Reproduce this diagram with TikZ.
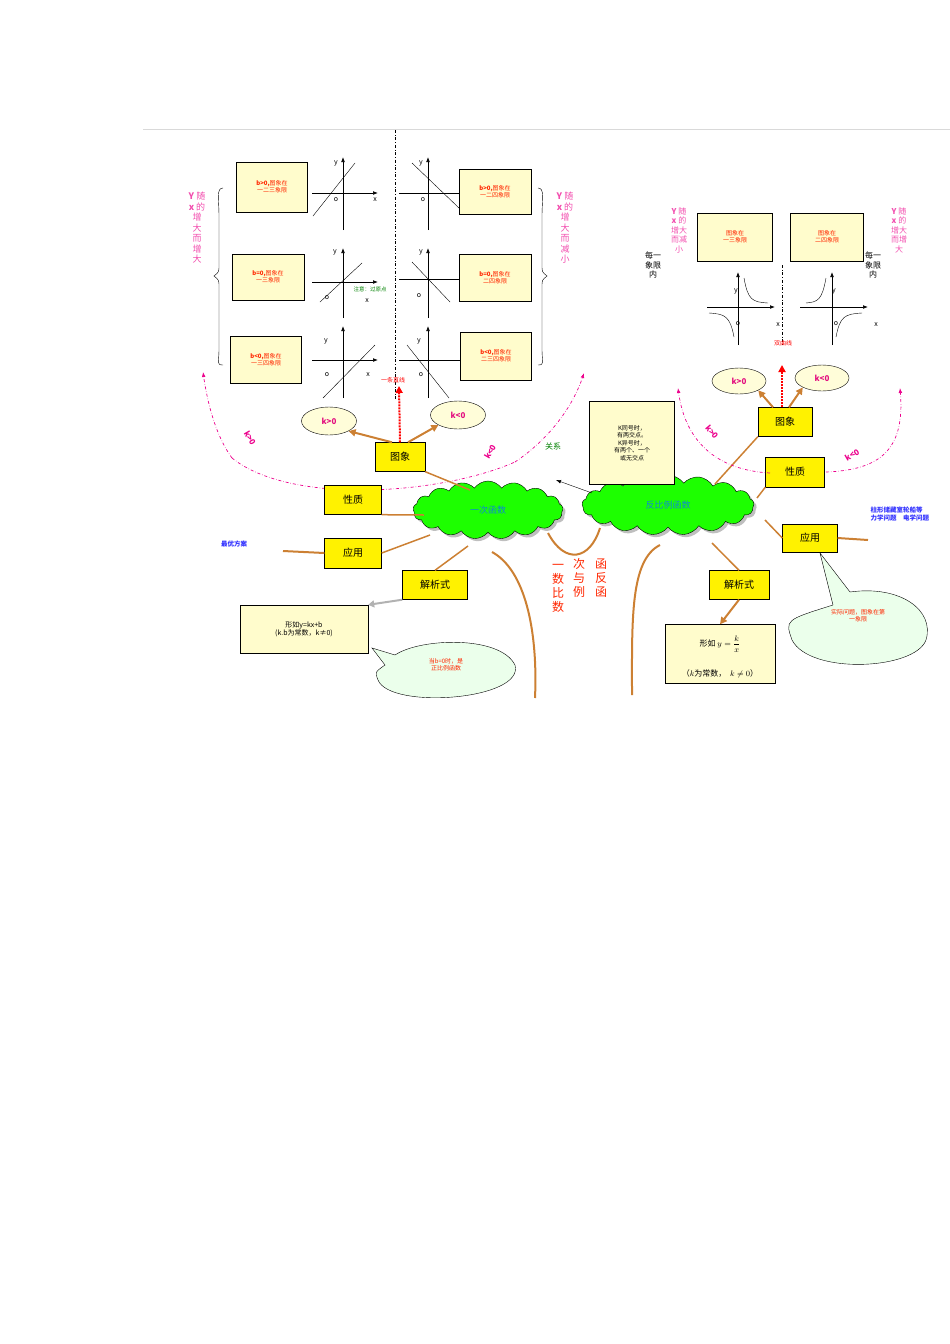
\documentclass[tikz,border=0pt]{standalone}
\usepackage{fontspec}
\setmainfont{Noto Sans CJK SC}
\usetikzlibrary{shapes.symbols,shapes.geometric,shapes.callouts,arrows.meta,shadows}
\begin{document}
\begin{tikzpicture}[x=1pt,y=-1pt,
 ybox/.style={draw,fill=yellow,font=\fontsize{10}{11}\selectfont,inner sep=0pt},
 cbox/.style={draw,fill=yellow!20,align=center,font=\fontsize{6}{7}\selectfont,text=red!70!orange,inner sep=0pt},
 kell/.style={draw,fill=yellow!15,ellipse,minimum width=55,minimum height=28,font=\fontsize{8}{9}\selectfont\bfseries,text=magenta!80!purple},
 br/.style={draw=brown!80!orange,line width=2pt},
 brar/.style={br,-{Triangle[length=7pt,width=7pt]}},
 ax/.style={-{Latex[length=5pt]},line width=0.7pt},
 gl/.style={font=\fontsize{7}{8}\selectfont\itshape},
 pk/.style={magenta,dash dot,line width=0.7pt},
 kl/.style={magenta,font=\fontsize{8}{9}\selectfont\bfseries,inner sep=0pt},
 vt/.style={align=center,font=\fontsize{9}{10.5}\selectfont,text=magenta!70,inner sep=0pt},
 cl/.style={cloud,cloud puffs=17,cloud puff arc=110,aspect=2.6,draw,fill=green!85!lime,drop shadow,font=\fontsize{9}{10}\selectfont,text=cyan!70!blue,inner sep=0pt}]
\useasboundingbox (0,0) rectangle (950,1344);
\draw[gray!30] (143,129) -- (950,129);
\draw[dash dot] (395,130) -- (395,400);
\draw[dash dot] (782,265) -- (782,345);
% left boxes
\node[cbox,minimum width=71,minimum height=50] (l1) at (272,187) {\textbf{b>0,}图象在\\一二三象限};
\node[cbox,minimum width=72,minimum height=46] (l2) at (268,277) {\textbf{b=0,}图象在\\一三象限};
\node[cbox,minimum width=71,minimum height=47] (l3) at (266,360) {\textbf{b<0,}图象在\\一三四象限};
\node[cbox,minimum width=72,minimum height=45] (r1) at (495,192) {\textbf{b>0,}图象在\\一二四象限};
\node[cbox,minimum width=72,minimum height=47] (r2) at (495,278) {\textbf{b=0,}图象在\\二四象限};
\node[cbox,minimum width=71,minimum height=48] (r3) at (496,356) {\textbf{b<0,}图象在\\二三四象限};
% left graphs
\draw[ax] (343,230)--(343,157); \draw[ax] (312,193)--(378,193); \draw (313,216)--(355,163);
\node[gl] at (336,163){y}; \node[gl] at (336,200){o}; \node[gl] at (375,200){x};
\draw[ax] (343,318)--(343,248); \draw[ax] (312,282)--(378,282); \draw (320,302)--(362,263);
\node[gl] at (335,252){y}; \node[gl] at (327,298){o}; \node[gl] at (367,301){x};
\node[font=\fontsize{5.5}{6}\selectfont,text=green!50!black] at (370,289){注意：过原点};
\draw[ax] (343,398)--(343,326); \draw[ax] (312,360)--(378,360); \draw (323,398)--(375,345);
\node[gl] at (326,341){y}; \node[gl] at (327,375){o}; \node[gl] at (368,375){x};
% right graphs
\draw[ax] (428,230)--(428,157); \draw (399,193)--(459,193); \draw (412,163)--(459,208);
\node[gl] at (421,163){y}; \node[gl] at (423,200){o};
\draw[ax] (428,318)--(428,248); \draw (399,279)--(459,279); \draw (412,262)--(450,302);
\node[gl] at (421,252){y}; \node[gl] at (419,296){o};
\draw[ax] (428,398)--(428,326); \draw (399,360)--(461,360); \draw (407,345)--(449,398);
\node[gl] at (419,341){y}; \node[gl] at (421,375){o};
% braces
\draw (223,188) .. controls (216,188) and (219,200) .. (219,215) -- (219,265) .. controls (219,272) .. (214,276) .. controls (219,280) .. (219,287) -- (219,350) .. controls (219,362) and (216,365) .. (223,365);
\draw (538,188) .. controls (545,188) and (542,200) .. (542,215) -- (542,265) .. controls (542,272) .. (547,276) .. controls (542,280) .. (542,287) -- (542,350) .. controls (542,362) and (545,365) .. (538,365);
\node[vt] at (197,228) {\textbf{Y} 随\\\textbf{x} 的\\增\\大\\而\\增\\大};
\node[vt] at (565,228) {\textbf{Y} 随\\\textbf{x} 的\\增\\大\\而\\减\\小};
% left lower
\coordinate (up1) at (399,386);
\node[font=\fontsize{6}{7}\selectfont,text=red] at (393,380) {一条直线};
\node[ybox,minimum width=50,minimum height=29] (tx1) at (400,457) {图象};
\draw[red,densely dotted,line width=2pt,-{Triangle[length=7pt,width=7pt]}] (tx1.north) -- (up1);
\node[kell] (kp1) at (329,421) {k>0};
\node[kell] (kn1) at (458,415) {k<0};
\draw[brar] ([xshift=-8]tx1.north) -- (kp1.south east);
\draw[brar] ([xshift=8]tx1.north) -- (kn1.south west);
\draw[pk,-{Latex[length=5pt]}] (232,458) .. controls (215,435) and (207,400) .. (203,372);
\draw[pk] (232,458) .. controls (290,505) and (440,495) .. (515,462);
\draw[pk,-{Latex[length=5pt]}] (515,462) .. controls (555,435) and (575,400) .. (584,373);
\node[kl,rotate=-60] at (250,438){k>0};
\node[kl,rotate=60] at (490,452){k<0};
\node[cl,minimum width=150,minimum height=58] (c1) at (488,510) {一次函数};
\node[ybox,minimum width=57,minimum height=29] (xz1) at (353,500) {性质};
\node[ybox,minimum width=57,minimum height=30] (yy1) at (353,553) {应用};
\node[ybox,minimum width=65,minimum height=29] (jx1) at (435,585) {解析式};
\draw[br,line width=1.5pt] (tx1.south east) -- (470,490);
\draw[br,line width=1.5pt] (xz1.south east) -- (424,515);
\draw[br,line width=1.5pt] (yy1.east) -- (430,535);
\draw[br,line width=1.5pt] (jx1.north) -- (468,546);
\coordinate (lo) at (283,551);
\draw[br] (yy1.west) -- (lo);
\node[font=\fontsize{6.5}{7}\selectfont\bfseries,text=blue!80] at (234,544){最优方案};
\node[draw,fill=yellow!20,minimum width=128,minimum height=48,align=center,font=\fontsize{7}{8}\selectfont,inner sep=0pt] (f1) at (304,629) {形如y=kx+b\\(k.b为常数，k≠0)};
\draw[gray!60,line width=2pt,-{Triangle[length=6pt,width=7pt]}] (jx1.south west) -- (f1.north east);
\draw[fill=green!8] (372,648) -- (395,655) .. controls (420,638) and (500,635) .. (515,665) .. controls (525,700) and (390,710) .. (378,680) .. controls (375,672) .. (385,665) -- cycle;
\node[font=\fontsize{6}{7}\selectfont,text=red!70!orange,align=center] at (446,665){当b=0时，是\\正比例函数};
% trunk
\draw[br] (492,552) .. controls (525,570) and (538,630) .. (535,698);
\draw[br] (548,533) .. controls (565,565) and (590,560) .. (600,528);
\draw[br] (660,545) .. controls (630,560) and (632,620) .. (632,695);
\node[text=red!70!orange,font=\fontsize{12}{14}\selectfont,align=center] at (558,588){一\\数\\比\\数};
\node[text=red!70!orange,font=\fontsize{12}{14}\selectfont,align=center] at (579,578){次\\与\\例};
\node[text=red!70!orange,font=\fontsize{12}{14}\selectfont,align=center] at (601,578){函\\反\\函};
\node[text=green!50!black,font=\fontsize{8}{9}\selectfont] at (553,446){关系};
% right
\node[cl,minimum width=172,minimum height=60] (c2) at (668,505) {反比例函数};
\coordinate (ar) at (556,480);
\draw[-{Latex[length=5pt]}] (c2.west) ++(10,-12) -- (ar);
\node[draw,fill=yellow!20,minimum width=85,minimum height=83,align=center,font=\fontsize{6}{7.5}\selectfont,inner sep=0pt] (kb) at (632,443) {K同号时，\\有两交点。\\K异号时，\\有两个、一个\\或无交点};
\node[ybox,minimum width=54,minimum height=29] (tx2) at (785,422) {图象};
\node[ybox,minimum width=59,minimum height=30] (xz2) at (795,472) {性质};
\node[ybox,minimum width=55,minimum height=28] (yy2) at (810,538) {应用};
\node[ybox,minimum width=60,minimum height=29] (jx2) at (739,585) {解析式};
\draw[br,line width=1.5pt] (tx2.south west) -- (715,484);
\draw[br,line width=1.5pt] (xz2.south west) -- (757,498);
\draw[br,line width=1.5pt] (yy2.west) -- (765,520);
\draw[br,line width=1.5pt] (jx2.north) -- (712,543);
\coordinate (ro) at (868,540);
\draw[br] (yy2.east) -- (ro);
\node[font=\fontsize{6.5}{7.5}\selectfont\bfseries,text=blue!80,align=left,anchor=west] at (867,514){柱形储藏室轮船等\\力学问题\quad 电学问题};
\node[draw,fill=yellow!20,minimum width=110,minimum height=59,inner sep=0pt] (f2) at (720,654) {};
\node[font=\fontsize{8}{9}\selectfont] at (720,644){形如 $y=\displaystyle\frac{k}{x}$};
\node[font=\fontsize{8}{9}\selectfont] at (720,674){（$k$为常数，\ \ $k\neq0$）};
\draw[brar] (jx2.south) -- (f2.north);
\draw[fill=green!8] (820,553) -- (850,592) .. controls (900,585) and (935,610) .. (926,640) .. controls (915,670) and (810,675) .. (792,640) .. controls (785,620) .. (833,605) -- cycle;
\node[font=\fontsize{6}{7}\selectfont,text=red!70!orange,align=center] at (858,616){实际问题，图象在第\\一象限};
\node[cbox,minimum width=75,minimum height=48] (h1) at (735,237) {图象在\\一三象限};
\node[cbox,minimum width=73,minimum height=48] (h2) at (827,237) {图象在\\二四象限};
\draw[ax] (738,345)--(738,272); \draw[ax] (707,307)--(775,307);
\draw (744,278) .. controls (748,300) and (752,302) .. (768,303);
\draw (709,313) .. controls (725,314) and (730,316) .. (734,337);
\node[gl] at (736,291){y}; \node[gl] at (738,324){o}; \node[gl] at (778,325){x};
\draw[ax] (832,345)--(832,272); \draw[ax] (800,307)--(868,307);
\draw (826,278) .. controls (822,300) and (818,302) .. (806,303);
\draw (862,313) .. controls (845,314) and (840,316) .. (836,337);
\node[gl] at (834,291){y}; \node[gl] at (836,324){o}; \node[gl] at (876,325){x};
\node[vt,font=\fontsize{8}{9.5}\selectfont] at (679,230){\textbf{Y} 随\\\textbf{x} 的\\增大\\而减\\小};
\node[vt,font=\fontsize{8}{9.5}\selectfont] at (899,230){\textbf{Y} 随\\\textbf{x} 的\\增大\\而增\\大};
\node[align=center,font=\fontsize{8}{9.5}\selectfont,inner sep=0pt] at (653,265){每一\\象限\\内};
\node[align=center,font=\fontsize{8}{9.5}\selectfont,inner sep=0pt] at (873,265){每一\\象限\\内};
\node[font=\fontsize{6}{7}\selectfont,text=red] at (783,343){双曲线};
\coordinate (up2) at (782,365);
\draw[red,densely dotted,line width=2pt,-{Triangle[length=7pt,width=7pt]}] (tx2.north -| up2) -- (up2);
\node[kell,minimum width=54,minimum height=26] (kp2) at (739,381) {k>0};
\node[kell,minimum width=54,minimum height=26] (kn2) at (822,378) {k<0};
\draw[brar] ([xshift=-12]tx2.north) -- (kp2.south east);
\draw[brar] ([xshift=4]tx2.north) -- (kn2.south west);
\draw[pk,-{Latex[length=5pt]}] (770,473) .. controls (715,470) and (685,440) .. (678,388);
\draw[pk,-{Latex[length=5pt]}] (826,472) .. controls (880,470) and (905,450) .. (900,388);
\node[kl,rotate=-50] at (712,432){k>0};
\node[kl,rotate=30] at (852,455){k<0};
\end{tikzpicture}
\end{document}
